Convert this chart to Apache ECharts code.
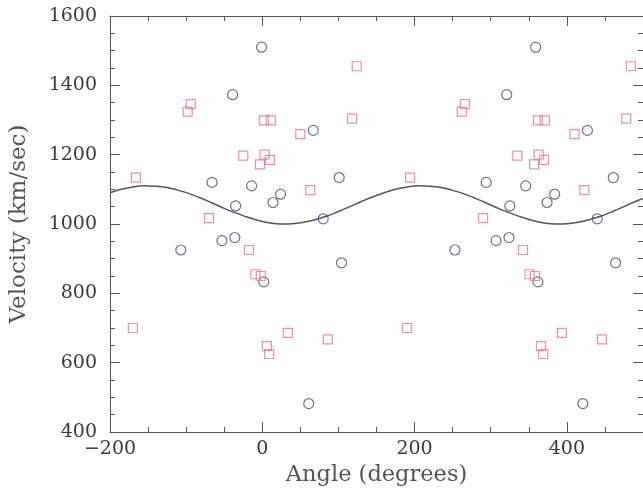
<!DOCTYPE html>
<html>
<head>
<meta charset="utf-8">
<script src="https://cdn.jsdelivr.net/npm/echarts@6/dist/echarts.min.js"></script>
<style>
html,body{margin:0;padding:0;background:#fff;}
#c{width:643px;height:492px;}
</style>
</head>
<body>
<div id="c"></div>
<script>
// Circles (angle in degrees, velocity km/sec)
const circleAngles = [-1, -39, -66, -14, 24, 14, -35, 67, 101, 80, -107, -53, -36, 2, 104, 61,
                      359, 321, 294, 346, 384, 374, 325, 427, 461, 440, 253, 307, 324, 362, 464, 421];
const circleVelocities = [1510, 1373, 1120, 1110, 1086, 1062, 1052, 1270, 1134, 1015, 925, 952, 961, 833, 888, 482,
                          1510, 1373, 1120, 1110, 1086, 1062, 1052, 1270, 1134, 1015, 925, 952, 961, 833, 888, 482];
// Squares
const squareAngles = [-94, -98, 2, 11, -25, 3, -3, 10, -166, -70, 124, 118, 50, 63, -17.5, -9, -2, -170, 6, 9, 33.5, 86,
                      266, 262, 362, 371, 335, 363, 357, 370, 194, 290, 484, 478, 410, 423, 342.5, 351, 358, 190, 366, 369, 393.5, 446];
const squareVelocities = [1346, 1324, 1299, 1299, 1197, 1200, 1172, 1185, 1134, 1017, 1455, 1304, 1259, 1098, 925, 855, 850, 700, 648, 625, 686, 667,
                          1346, 1324, 1299, 1299, 1197, 1200, 1172, 1185, 1134, 1017, 1455, 1304, 1259, 1098, 925, 855, 850, 700, 648, 625, 686, 667];
// Model curve
const curveAngles = [-200, -185, -170, -155, -140, -125, -110, -95, -80, -65, -50, -35, -20, -5, 10, 25, 40, 55, 70, 85, 100, 115, 130, 145, 160,
                     175, 190, 205, 220, 235, 250, 265, 280, 295, 310, 325, 340, 355, 370, 385, 400, 415, 430, 445, 460, 475, 490, 500];
const curveVelocities = [1090, 1100, 1107, 1110, 1109, 1105, 1097, 1087, 1074, 1060, 1045, 1032, 1020, 1010, 1003, 1000, 1001, 1005, 1013, 1023, 1036, 1050, 1065, 1078, 1090,
                         1100, 1107, 1110, 1109, 1105, 1097, 1087, 1074, 1060, 1045, 1032, 1020, 1010, 1003, 1000, 1001, 1005, 1013, 1023, 1036, 1050, 1065, 1074];

const xMajorTicks = [-200, 0, 200, 400];

const FONT = 'DejaVu Serif';
const AXIS_COLOR = '#555';
const LABEL_COLOR = '#3a3a3a';

const zip = (a, b) => a.map((v, i) => [v, b[i]]);

function xAxisDef(position, interval, tickLen, withLabels, withLine) {
  return {
    type: 'value', position: position, min: -200, max: 500, interval: interval,
    axisLine: { show: withLine, onZero: false, lineStyle: { color: AXIS_COLOR, width: 1 } },
    axisTick: { show: true, inside: true, length: tickLen, lineStyle: { color: AXIS_COLOR, width: 1 } },
    splitLine: { show: false },
    axisLabel: withLabels ? {
      show: true, margin: 8, fontFamily: FONT, fontSize: 19, color: LABEL_COLOR,
      showMaxLabel: false,
      formatter: v => xMajorTicks.indexOf(v) >= 0 ? (v < 0 ? '\u2212' + Math.abs(v) : String(v)) : ''
    } : { show: false },
    name: (withLabels ? 'Angle (degrees)' : ''),
    nameLocation: 'middle', nameGap: 32,
    nameTextStyle: { fontFamily: FONT, fontSize: 22.5, color: '#555' }
  };
}

function yAxisDef(position, withLabels) {
  return {
    type: 'value', position: position, min: 400, max: 1600, interval: 200,
    axisLine: { show: true, onZero: false, lineStyle: { color: AXIS_COLOR, width: 1 } },
    axisTick: { show: true, inside: true, length: 10, lineStyle: { color: AXIS_COLOR, width: 1 } },
    minorTick: { show: true, splitNumber: 4, length: 5, lineStyle: { color: AXIS_COLOR, width: 1 } },
    splitLine: { show: false },
    axisLabel: withLabels ? { show: true, margin: 13, fontFamily: FONT, fontSize: 19, color: LABEL_COLOR,
                              formatter: v => String(v) } : { show: false },
    name: withLabels ? 'Velocity (km/sec)' : '',
    nameLocation: 'middle', nameGap: 79, nameRotate: 90,
    nameTextStyle: { fontFamily: FONT, fontSize: 23, color: '#555' }
  };
}

const chart = echarts.init(document.getElementById('c'), null, { renderer: 'canvas' });
chart.setOption({
  backgroundColor: '#fff',
  animation: false,
  grid: { left: 109, top: 16, width: 535, height: 422 },
  xAxis: [
    xAxisDef('bottom', 200, 10, true, true),
    xAxisDef('bottom', 50, 5, false, false),
    xAxisDef('top', 200, 10, false, true),
    xAxisDef('top', 50, 5, false, false)
  ],
  yAxis: [
    yAxisDef('left', true),
    yAxisDef('right', false)
  ],
  series: [
    {
      type: 'line', xAxisIndex: 0, yAxisIndex: 0,
      data: zip(curveAngles, curveVelocities),
      smooth: 0.3, showSymbol: false, symbol: 'none',
      lineStyle: { color: '#555', width: 1.5 }, z: 2
    },
    {
      type: 'scatter', xAxisIndex: 0, yAxisIndex: 0,
      data: zip(circleAngles, circleVelocities),
      symbol: 'circle', symbolSize: 10,
      itemStyle: { color: 'rgba(0,0,0,0)', borderColor: '#4a4f72', borderWidth: 1.2 }, z: 3
    },
    {
      type: 'scatter', xAxisIndex: 0, yAxisIndex: 0,
      data: zip(squareAngles, squareVelocities),
      symbol: 'rect', symbolSize: 9,
      itemStyle: { color: 'rgba(0,0,0,0)', borderColor: '#e27690', borderWidth: 1.2 }, z: 3
    }
  ]
});
</script>
</body>
</html>
